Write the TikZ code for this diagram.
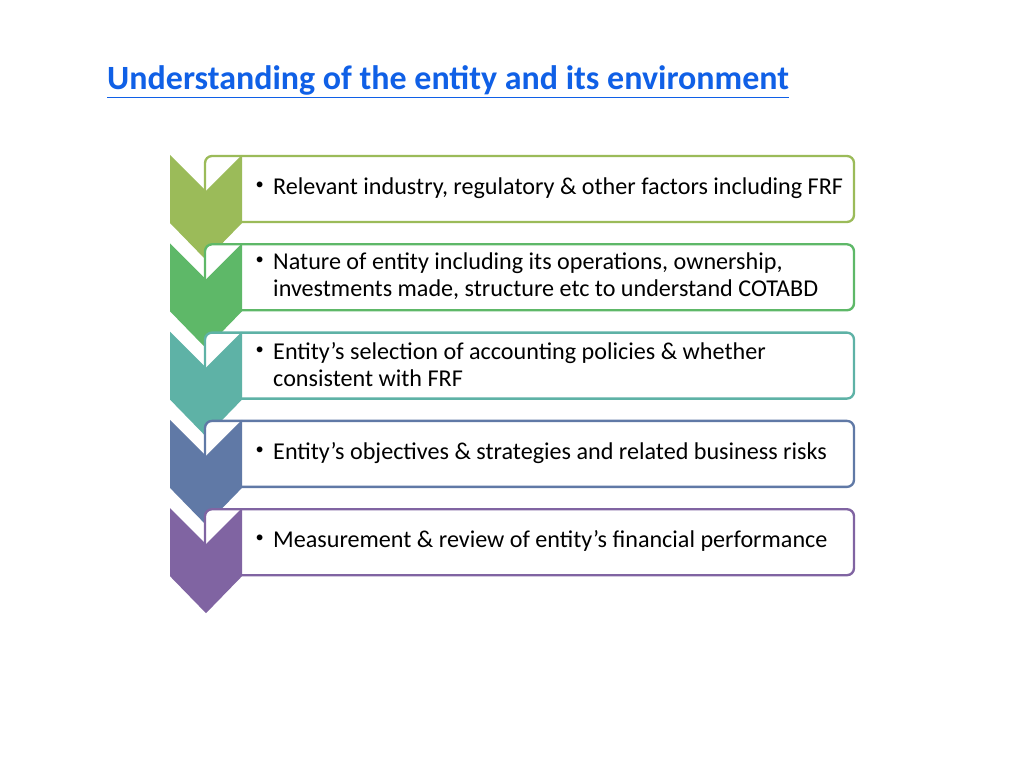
\documentclass[tikz,border=0pt]{standalone}
\usepackage{fontspec}
\setmainfont{Carlito}
\definecolor{stepA}{RGB}{155,187,89}
\definecolor{stepB}{RGB}{94,184,104}
\definecolor{stepC}{RGB}{94,178,166}
\definecolor{stepD}{RGB}{96,121,166}
\definecolor{stepE}{RGB}{128,100,162}
\definecolor{titleblue}{RGB}{16,96,230}
\tikzset{
  box/.style={draw=#1, line width=2pt, fill=white, rounded corners=6pt},
  chev/.style={fill=#1, draw=none},
  item/.style={anchor=west, align=left, font=\fontsize{20.6}{22.5}\selectfont, inner sep=0pt}
}
\newcommand{\bul}{\makebox[0pt][r]{\raisebox{.45ex}{\fontsize{14}{14}\selectfont\textbullet}\hspace{8pt}}}
\begin{document}
\begin{tikzpicture}[x=0.03cm, y=-0.03cm]
  \useasboundingbox (0,0) rectangle (1024,768);
  \node[anchor=base west, inner sep=0pt, text=titleblue, font=\bfseries\fontsize{29}{32}\selectfont] (title) at (107,90) {\underline{Understanding of the entity and its environment}};
  \foreach \c/\t [count=\i from 0] in {
      stepA/{\bul Relevant industry, regulatory \& other factors including FRF},
      stepB/{\bul Nature of entity including its operations, ownership,\\investments made, structure etc to understand COTABD},
      stepC/{\bul Entity’s selection of accounting policies \& whether\\consistent with FRF},
      stepD/{\bul Entity’s objectives \& strategies and related business risks},
      stepE/{\bul Measurement \& review of entity’s financial performance}} {
    \pgfmathsetmacro{\top}{156+88.3*\i}
    \draw[box=\c] (205,\top) rectangle (854,\top+66);
    \fill[chev=\c] (170,\top-1) -- (206,\top+35) -- (242,\top-1) -- (242,\top+67)
      -- (206,\top+104) -- (170,\top+67) -- cycle;
    \node[item] (item\i) at (273,\top+32) {\t};
  }
\end{tikzpicture}
\end{document}
